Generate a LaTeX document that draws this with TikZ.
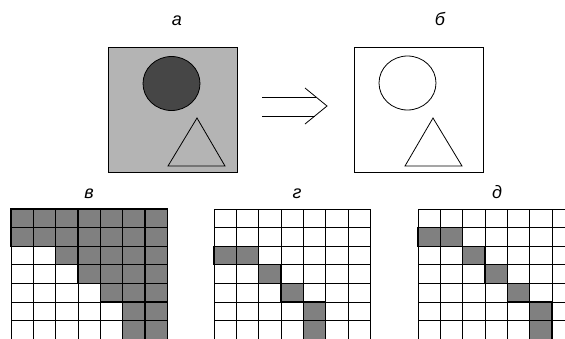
\documentclass[tikz,border=0pt]{standalone}
\usepackage{fontspec}
\setmainfont{Liberation Sans}
\usetikzlibrary{shapes.geometric}
\definecolor{pnlgrey}{HTML}{B4B4B4}
\definecolor{blobdark}{HTML}{464646}
\definecolor{cellgrey}{HTML}{808080}
\tikzset{
  lbl/.style    = {font=\itshape\fontsize{18}{18}\selectfont, inner sep=0pt, anchor=base},
  panel/.style  = {draw, line width=0.9pt, minimum width=129pt, minimum height=125pt,
                   inner sep=0pt},
  blob/.style   = {ellipse, draw, line width=0.8pt, minimum width=57pt,
                   minimum height=54pt, inner sep=0pt},
  trig/.style   = {line width=0.8pt, line join=miter},
  gridln/.style = {line width=0.9pt},
  hot/.style    = {fill=cellgrey, draw, line width=1.3pt},
}

\begin{document}
\begin{tikzpicture}[x=1pt,y=1pt]
\def\cw{22.35}    % cell width
\def\ch{18.6}     % cell height
\def\gtop{-209}   % top of the three grids
\useasboundingbox (0,0) rectangle (565,-338);
\clip (0,0) rectangle (565,-338);

% -- labels ------------------------------------------------------------------
\node[lbl] (la) at (177,-25.7) {а};
\node[lbl] (lb) at (440,-25.7) {б};
\node[lbl] (lv) at (89,-198.3)  {в};
\node[lbl] (lg) at (297,-198.3) {г};
\node[lbl] (ld) at (497,-198.3) {д};

% -- the two pictures --------------------------------------------------------
\node[panel, fill=pnlgrey] (boxA) at (172.5,-109.5) {};
\node[blob, fill=blobdark] (blobA) at (171.5,-83.5) {};
\draw[trig] (168,-166) -- (225,-166) -- (197,-118) -- cycle;

\node[panel] (boxB) at (418.5,-110) {};
\node[blob] (blobB) at (407.5,-83) {};
\draw[trig] (405,-166) -- (462,-166) -- (433,-118) -- cycle;

% -- the double arrow --------------------------------------------------------
\draw[line width=0.8pt] (262,-97) -- (316,-97);
\draw[line width=0.8pt] (262,-116) -- (315,-116);
\draw[line width=0.8pt] (305,-88) -- (327,-106) -- (305,-124);

% -- grids -------------------------------------------------------------------
\foreach \ox in {11,214,418}{
  \foreach \i in {0,...,7}
    \draw[gridln] ({\ox+\i*\cw},\gtop) -- ({\ox+\i*\cw},-340);
  \foreach \j in {0,...,7}
    \draw[gridln] (\ox,{\gtop-\j*\ch}) -- ({\ox+7*\cw},{\gtop-\j*\ch});
}

% \hotcell{grid x}{row}{col}
\def\hotcell#1#2#3{\draw[hot] ({#1+(#3-1)*\cw},{\gtop-(#2-1)*\ch})
   rectangle ({#1+#3*\cw},{\gtop-#2*\ch});}

% в: everything right of the staircase
\foreach \r/\c in {1/1,2/1,3/3,4/4,5/5,6/6,7/6}
  \foreach \k in {\c,...,7} {\hotcell{11}{\r}{\k}}
% г
\foreach \r/\c in {3/1,3/2,4/3,5/4,6/5,7/5} {\hotcell{214}{\r}{\c}}
% д
\foreach \r/\c in {2/1,2/2,3/3,4/4,5/5,6/6,7/6} {\hotcell{418}{\r}{\c}}

\end{tikzpicture}
\end{document}
